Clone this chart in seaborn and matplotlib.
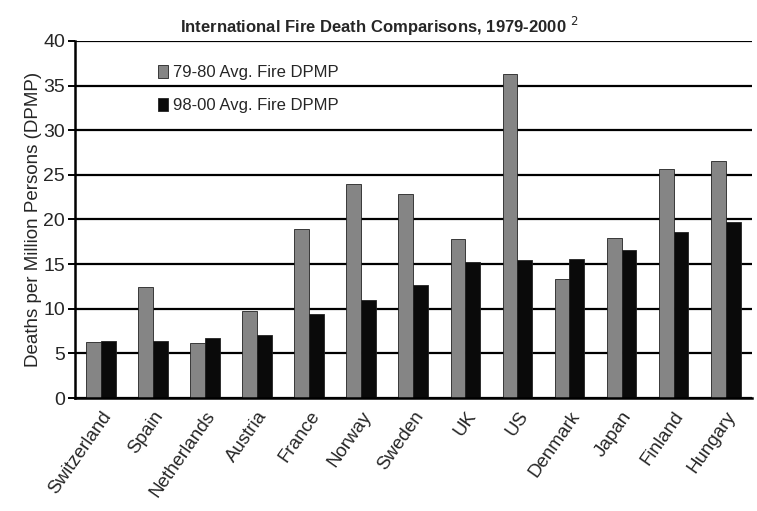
import numpy as np
import pandas as pd
import seaborn as sns
import matplotlib
matplotlib.use("Agg")
import matplotlib.pylab as plt

countries = ['Switzerland', 'Spain', 'Netherlands', 'Austria', 'France', 'Norway',
             'Sweden', 'UK', 'US', 'Denmark', 'Japan', 'Finland', 'Hungary']
avg_79_80 = [6.3, 12.4, 6.2, 9.7, 18.9, 24.0, 22.8, 17.8, 36.3, 13.3, 17.9, 25.6, 26.5]
avg_98_00 = [6.4, 6.4, 6.7, 7.1, 9.4, 11.0, 12.7, 15.2, 15.5, 15.6, 16.6, 18.6, 19.7]
series = ['79-80 Avg. Fire DPMP', '98-00 Avg. Fire DPMP']

df = pd.DataFrame({'country': countries * 2,
                   'dpmp': avg_79_80 + avg_98_00,
                   'series': [series[0]] * len(countries) + [series[1]] * len(countries)})

sns.set_style("white")
plt.rcParams['font.family'] = ['Liberation Sans', 'DejaVu Sans']

fig = plt.figure(figsize=(7.57, 5.11), dpi=100)
ax = fig.add_axes([0.099, 0.221, 0.894, 0.699])

sns.barplot(data=df, x='country', y='dpmp', hue='series', order=countries,
            palette=['#858585', '#0a0a0a'], width=0.57, gap=0, ax=ax,
            edgecolor='#222222', linewidth=0.6, saturation=1)

ax.set_ylim(0, 40)
ax.set_xlim(-0.5, len(countries) - 0.5)
ax.set_yticks(range(0, 41, 5))
ax.yaxis.grid(True, color='black', linewidth=1.6)
ax.set_axisbelow(True)
for s in ['top', 'right']:
    ax.spines[s].set_visible(False)
for s in ['left', 'bottom']:
    ax.spines[s].set_color('black')
    ax.spines[s].set_linewidth(1.8)

ax.set_xticks(np.arange(len(countries)))
ax.set_xticklabels(countries, rotation=55, ha='right', rotation_mode='anchor', fontsize=13.5)
ax.tick_params(axis='x', length=0, pad=7)
ax.set_xticks(np.arange(-0.5, len(countries)), minor=True)
ax.tick_params(axis='x', which='minor', length=8, width=1.4, color='black', direction='out')
ax.tick_params(axis='y', length=5, width=1.4, color='black', direction='out', labelsize=14, left=True, pad=2)

ax.set_xlabel('')
ax.set_ylabel('Deaths per Million Persons (DPMP)', fontsize=13.5, labelpad=1)
ax.set_title('International Fire Death Comparisons, 1979-2000 $^{2}$',
             fontsize=12, fontweight='bold', pad=6, x=0.45)

leg = ax.legend(loc='upper left', bbox_to_anchor=(0.1, 0.975), frameon=False,
                fontsize=12, handlelength=0.6, handleheight=0.8, handletextpad=0.3,
                labelspacing=1.1)

fig.savefig('out.png', dpi=100)
